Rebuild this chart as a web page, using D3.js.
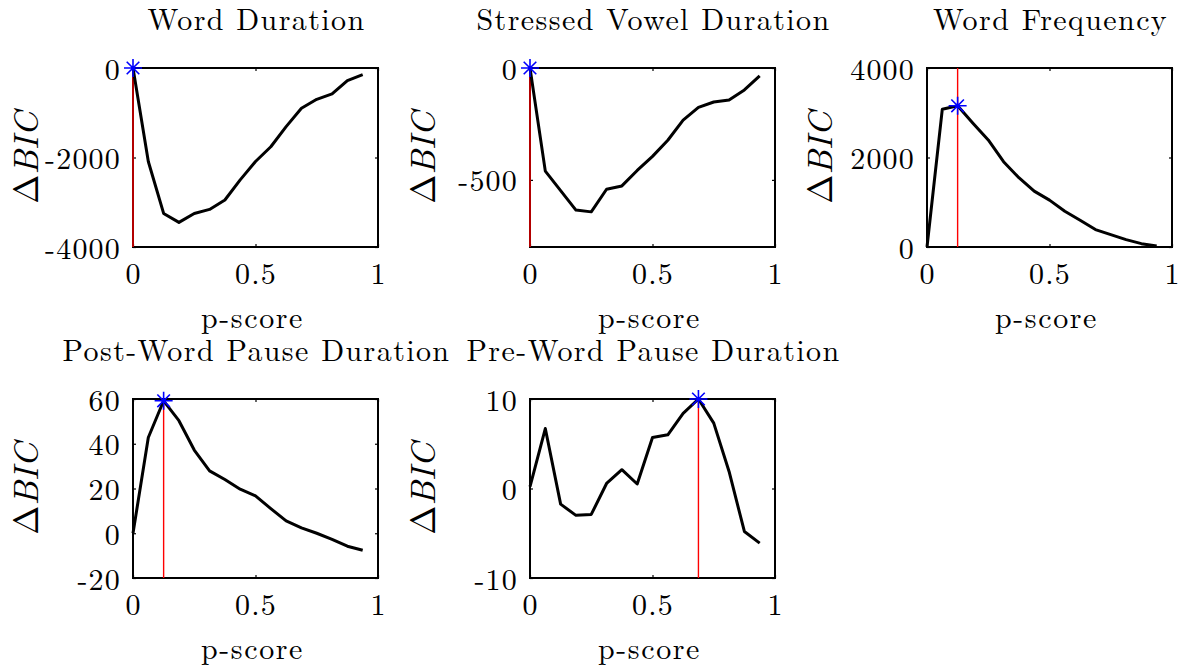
<!DOCTYPE html>
<html>
<head>
<meta charset="utf-8">
<script src="https://cdn.jsdelivr.net/npm/d3@7"></script>
<style>
  body { margin: 0; background: #fff; }
  svg { display: block; }
</style>
</head>
<body>
<svg id="chart" width="1184" height="670"></svg>
<script>
// p-score grid shared by every panel
var pScore = [0, 0.0625, 0.125, 0.1875, 0.25, 0.3125, 0.375, 0.4375,
              0.5, 0.5625, 0.625, 0.6875, 0.75, 0.8125, 0.875, 0.9375];

var wordDuration = [0, -2090, -3250, -3450, -3250, -3160, -2950, -2500,
                    -2090, -1760, -1310, -900, -700, -580, -280, -150];
var stressedVowel = [0, -461, -548, -635, -643, -542, -527, -458,
                     -395, -323, -233, -176, -152, -143, -98, -35];
var wordFrequency = [0, 3080, 3155, 2766, 2393, 1907, 1548, 1249,
                     1047, 800, 598, 389, 277, 164, 75, 22];
var postPause = [0, 42.8, 59.2, 50.3, 37.2, 27.9, 24, 19.7,
                 16.7, 11, 5.5, 2.4, 0, -2.7, -5.8, -7.6];
var prePause = [0.2, 6.7, -1.75, -3.0, -2.9, 0.56, 2.1, 0.5,
                5.7, 6.0, 8.4, 10, 7.3, 1.9, -4.8, -6.1];

var titles = ["Word Duration", "Stressed Vowel Duration", "Word Frequency",
              "Post-Word Pause Duration", "Pre-Word Pause Duration"];
var yDomains = [[-4000, 0], [-800, 0], [0, 4000], [-20, 60], [-10, 10]];
var yTicks = [[-4000, -2000, 0], [-500, 0], [0, 2000, 4000],
              [-20, 0, 20, 40, 60], [-10, 0, 10]];
var xTicks = [0, 0.5, 1];
var xTickLabels = ["0", "0.5", "1"];
var seriesList = [wordDuration, stressedVowel, wordFrequency, postPause, prePause];

var serif = "'Latin Modern Roman', 'CMU Serif', 'Noto Serif', 'Liberation Serif', 'DejaVu Serif', Georgia, serif";

// layout
var colLeft = [133, 530, 927],
    rowTop = [68, 399],
    plotW = 245,
    plotH = 179;

var svg = d3.select("#chart").style("font-family", serif);

seriesList.forEach(function(series, i) {
    var left = colLeft[i % 3],
        top = rowTop[Math.floor(i / 3)];

    var x = d3.scaleLinear().domain([0, 1]).range([0, plotW]);
    var y = d3.scaleLinear().domain(yDomains[i]).range([plotH, 0]);

    var g = svg.append("g").attr("transform", "translate(" + left + "," + top + ")");

    // axes (ticks inward, box drawn separately)
    g.append("g")
        .attr("class", "xaxis")
        .attr("transform", "translate(0," + plotH + ")")
        .call(d3.axisBottom(x).tickValues(xTicks)
            .tickFormat(function(d, k) { return xTickLabels[k]; })
            .tickSizeInner(-3).tickSizeOuter(0).tickPadding(17));
    g.append("g")
        .call(d3.axisTop(x).tickValues(xTicks).tickFormat("")
            .tickSizeInner(-3).tickSizeOuter(0));
    g.append("g")
        .attr("class", "yaxis")
        .call(d3.axisLeft(y).tickValues(yTicks[i])
            .tickFormat(function(d) { return d < 0 ? "-" + Math.abs(d) : String(d); })
            .tickSizeInner(-3).tickSizeOuter(0).tickPadding(12));
    g.append("g")
        .attr("transform", "translate(" + plotW + ",0)")
        .call(d3.axisRight(y).tickValues(yTicks[i]).tickFormat("")
            .tickSizeInner(-3).tickSizeOuter(0));

    g.selectAll(".domain").remove();
    g.selectAll("g").attr("font-family", null);
    g.selectAll(".tick line").attr("stroke", "#000").attr("stroke-width", 1.2);
    g.selectAll(".tick text")
        .style("font-family", serif)
        .attr("font-size", 30)
        .attr("letter-spacing", 1.2)
        .attr("fill", "#000");
    g.selectAll(".yaxis .tick text").attr("dy", "0.37em");
    g.selectAll(".xaxis .tick text").attr("dy", "0.68em");

    g.append("rect")
        .attr("x", 0).attr("y", 0)
        .attr("width", plotW).attr("height", plotH)
        .attr("fill", "none")
        .attr("stroke", "#000")
        .attr("stroke-width", 2);

    // best p-score marker
    var best = d3.maxIndex(series);
    var bx = x(pScore[best]), by = y(series[best]);

    g.append("line")
        .attr("x1", bx).attr("x2", bx)
        .attr("y1", y(yDomains[i][0])).attr("y2", y(yDomains[i][1]))
        .attr("stroke", "#ff0000")
        .attr("stroke-width", 1.4);

    var line = d3.line()
        .x(function(d, k) { return x(pScore[k]); })
        .y(function(d) { return y(d); });

    g.append("path")
        .datum(series)
        .attr("d", line)
        .attr("fill", "none")
        .attr("stroke", "#000")
        .attr("stroke-width", 3)
        .attr("stroke-linejoin", "round");

    var r = 9;
    g.append("path")
        .attr("d", "M" + (bx - r) + "," + by + "H" + (bx + r) +
                   "M" + bx + "," + (by - r) + "V" + (by + r) +
                   "M" + (bx - r * 0.7) + "," + (by - r * 0.7) + "L" + (bx + r * 0.7) + "," + (by + r * 0.7) +
                   "M" + (bx - r * 0.7) + "," + (by + r * 0.7) + "L" + (bx + r * 0.7) + "," + (by - r * 0.7))
        .attr("stroke", "#0000ff")
        .attr("stroke-width", 1.6)
        .attr("fill", "none");

    // labels
    g.append("text")
        .style("font-family", serif)
        .attr("x", plotW / 2 + 1).attr("y", -38)
        .attr("text-anchor", "middle")
        .attr("font-size", 30)
        .attr("letter-spacing", 1.4)
        .text(titles[i]);

    g.append("text")
        .style("font-family", serif)
        .attr("x", plotW / 2 - 3).attr("y", plotH + 81)
        .attr("text-anchor", "middle")
        .attr("font-size", 30)
        .attr("letter-spacing", 1.6)
        .text("p-score");

    var yl = g.append("text")
        .style("font-family", serif)
        .attr("transform", "translate(-95.5," + (plotH / 2) + ") rotate(-90)")
        .attr("text-anchor", "middle")
        .attr("font-size", 35);
    yl.append("tspan").text("\u0394");
    yl.append("tspan").attr("font-style", "italic").text("BIC");
});
</script>
</body>
</html>
